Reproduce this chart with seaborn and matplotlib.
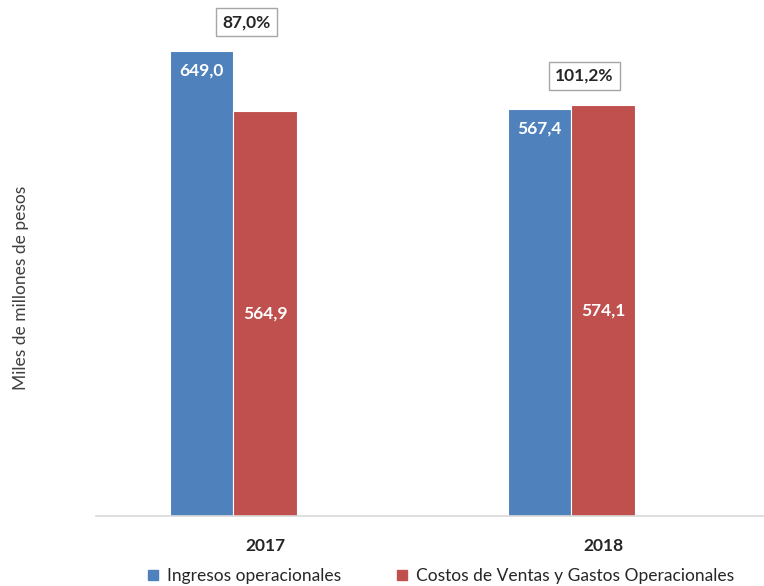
import matplotlib
matplotlib.use("Agg")
import matplotlib.pyplot as plt
from matplotlib.lines import Line2D
import seaborn as sns
import pandas as pd

years = ["2017", "2018"]
ingresos = [649.0, 567.4]
costos = [564.9, 574.1]
serie_ing = "Ingresos operacionales"
serie_cos = "Costos de Ventas y Gastos Operacionales"
serie_pct = "pct"  # empty slot, keeps the bars left of the tick like the original

blue = "#4F81BD"
red = "#C0504D"

df = pd.DataFrame({
    "year": years * 2,
    "serie": [serie_ing] * 2 + [serie_cos] * 2,
    "valor": ingresos + costos,
})

sns.set_style("white")
plt.rcParams["font.family"] = ["Lato", "DejaVu Sans"]

fig = plt.figure(figsize=(7.64, 5.86), dpi=100)
ax = fig.add_axes([96 / 764, 70 / 586, 1 - 96 / 764, 516 / 586])

sns.barplot(data=df, x="year", y="valor", hue="serie",
            hue_order=[serie_ing, serie_cos, serie_pct],
            palette={serie_ing: blue, serie_cos: red, serie_pct: "white"},
            saturation=1, width=0.562, edgecolor="white", linewidth=0.8,
            legend=False, ax=ax)

ax.set_ylim(0, 720)
ax.set_xlim(-0.5, 1.476)
ax.set_xlabel("")
ax.set_ylabel("")
ax.set_yticks([])
for s in ["top", "right", "left"]:
    ax.spines[s].set_visible(False)
ax.spines["bottom"].set_color("#D9D9D9")
ax.spines["bottom"].set_linewidth(1.2)
ax.tick_params(axis="x", length=4, width=1, color="#D9D9D9", pad=12,
               labelsize=12.5, labelcolor="#262626")
for t in ax.get_xticklabels():
    t.set_fontweight("bold")

# value labels
for bar, v in zip(ax.containers[0], ingresos):
    ax.annotate(f"{v:.1f}".replace(".", ","),
                (bar.get_x() + bar.get_width() / 2, v),
                xytext=(0, -14), textcoords="offset points",
                ha="center", va="center", color="white",
                fontsize=12.5, fontweight="bold")
for bar, v in zip(ax.containers[1], costos):
    ax.text(bar.get_x() + bar.get_width() / 2, v / 2,
            f"{v:.1f}".replace(".", ","),
            ha="center", va="center", color="white",
            fontsize=12.5, fontweight="bold")

# ratio boxes
for i, (a, b) in enumerate(zip(ingresos, costos)):
    pct = f"{b / a * 100:.1f}%".replace(".", ",")
    ax.text(i - 0.055, max(a, b) + 40, pct, ha="center", va="center",
            fontsize=12.5, fontweight="bold", color="#262626",
            bbox=dict(boxstyle="square,pad=0.35", fc="white",
                      ec="#A6A6A6", lw=1))

fig.text(21 / 764, 1 - 288 / 586, "Miles de millones de pesos",
         rotation=90, ha="center", va="center", fontsize=12.5,
         color="#404040")

handles = [Line2D([], [], marker="s", ls="", color=blue, markersize=7),
           Line2D([], [], marker="s", ls="", color=red, markersize=7)]
fig.legend(handles, [serie_ing, serie_cos], loc="center",
           bbox_to_anchor=(439 / 764, 10 / 586), ncol=2, frameon=False,
           fontsize=12.5, handletextpad=0.3, columnspacing=3.0,
           handlelength=1.0, labelcolor="#262626")

fig.savefig("out.png", dpi=100)
